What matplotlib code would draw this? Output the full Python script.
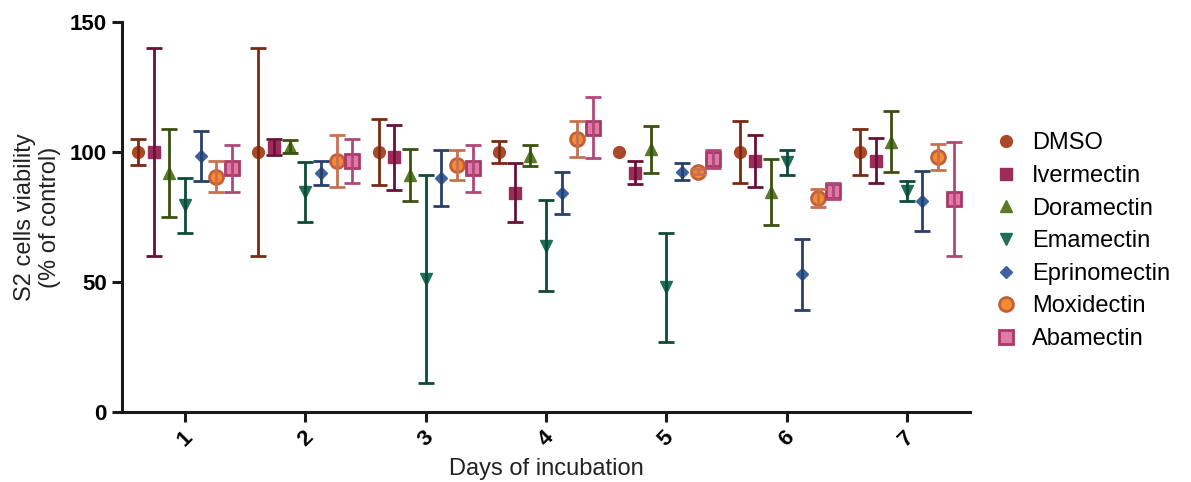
import matplotlib
matplotlib.use("Agg")
import matplotlib.pyplot as plt
import numpy as np

plt.rcParams['font.family'] = ['Liberation Sans', 'DejaVu Sans']

days = [1, 2, 3, 4, 5, 6, 7]
day_labels = ["1", "2", "3", "4", "5", "6", "7"]

series_names = ["DMSO", "Ivermectin", "Doramectin", "Emamectin",
                "Eprinomectin", "Moxidectin", "Abamectin"]

dmso = [100, 100, 100, 100, 100, 100, 100]
dmso_err = [5, 40, 12.7, 4.3, 0, 12, 8.7]
ivermectin = [100, 102, 98, 84.4, 92, 96.7, 96.7]
ivermectin_err = [40, 3, 12.5, 11.5, 4.5, 10, 8.5]
doramectin = [92, 102, 91, 98.6, 101, 84.5, 104]
doramectin_err = [17, 2.5, 10, 4, 9, 12.7, 11.7]
emamectin = [79.5, 84.5, 51, 64, 48, 96, 85]
emamectin_err = [10.5, 11.5, 40, 17.5, 21, 4.7, 4]
eprinomectin = [98.5, 92, 90, 84.2, 92.4, 53, 81]
eprinomectin_err = [9.6, 4.7, 10.7, 8, 3.3, 13.7, 11.5]
moxidectin = [90.5, 96.5, 95, 105, 92.4, 82.4, 98.2]
moxidectin_err = [6, 10, 5.8, 7, 1, 3.5, 5]
abamectin = [93.7, 96.5, 93.7, 109.4, 97.3, 85, 82]
abamectin_err = [9, 8.5, 9, 11.6, 3.5, 3, 22]

means = [dmso, ivermectin, doramectin, emamectin, eprinomectin, moxidectin, abamectin]
errs = [dmso_err, ivermectin_err, doramectin_err, emamectin_err,
        eprinomectin_err, moxidectin_err, abamectin_err]

styles = [
    dict(marker='o', ms=8.5, mfc='#a84a28', mec='#a84a28', mew=1.0, bar='#7a2a10'),
    dict(marker='s', ms=8.5, mfc='#9c2d5a', mec='#9c2d5a', mew=1.0, bar='#6a1038'),
    dict(marker='^', ms=8.5, mfc='#5a7a28', mec='#5a7a28', mew=1.0, bar='#3a5010'),
    dict(marker='v', ms=8.5, mfc='#1e6e58', mec='#1e6e58', mew=1.0, bar='#0e4a38'),
    dict(marker='D', ms=6.0, mfc='#3a62a0', mec='#3a62a0', mew=1.0, bar='#2a4068'),
    dict(marker='o', ms=10.0, mfc='#f58a30', mec='#c0603a', mew=2.0, bar='#c87050'),
    dict(marker='s', ms=10.0, mfc='#e07aa8', mec='#a83a68', mew=2.0, bar='#b04878'),
]

fig = plt.figure(figsize=(11.91, 4.82), dpi=100)
ax = fig.add_axes([0.1024, 0.1452, 0.712, 0.8092])

x = np.array(days, dtype=float)
for i, (name, m, e, st) in enumerate(zip(series_names, means, errs, styles)):
    xs = x + (i - 3) * 0.13
    m = np.array(m, dtype=float)
    e = np.array(e, dtype=float)
    ax.plot(xs, m, linestyle='none', marker=st['marker'], ms=st['ms'],
            mfc=st['mfc'], mec=st['mec'], mew=st['mew'], label=name, zorder=2,
            clip_on=False)
    keep = e > 0
    ax.errorbar(xs[keep], m[keep], yerr=e[keep], fmt='none', ecolor=st['bar'],
                elinewidth=2.0, capsize=6, capthick=2.0, zorder=3, clip_on=False)

ax.set_xlim(0.475, 7.525)
ax.set_ylim(0, 150)
ax.set_yticks([0, 50, 100, 150])
ax.set_xticks(days)
ax.set_xticklabels(day_labels, rotation=45, ha='center', fontweight='bold', fontsize=16)
for lab in ax.get_yticklabels():
    lab.set_fontweight('bold')
    lab.set_fontsize(16)

for sp in ['top', 'right']:
    ax.spines[sp].set_visible(False)
for sp in ['left', 'bottom']:
    ax.spines[sp].set_linewidth(2.2)
    ax.spines[sp].set_color('#1a1a1a')
ax.tick_params(axis='both', width=2.2, length=7, color='#1a1a1a', pad=4)

ax.set_ylabel("S2 cells viability\n(% of control)", fontsize=17, color='#222222', labelpad=6)
ax.set_xlabel("Days of incubation", fontsize=17, color='#222222', labelpad=5)

leg = ax.legend(loc='upper left', bbox_to_anchor=(0.827, 0.745), bbox_transform=fig.transFigure,
                frameon=False, fontsize=17, handlelength=1.0, handletextpad=0.6,
                labelspacing=0.45, borderaxespad=0)

fig.savefig("out.png", dpi=100)
